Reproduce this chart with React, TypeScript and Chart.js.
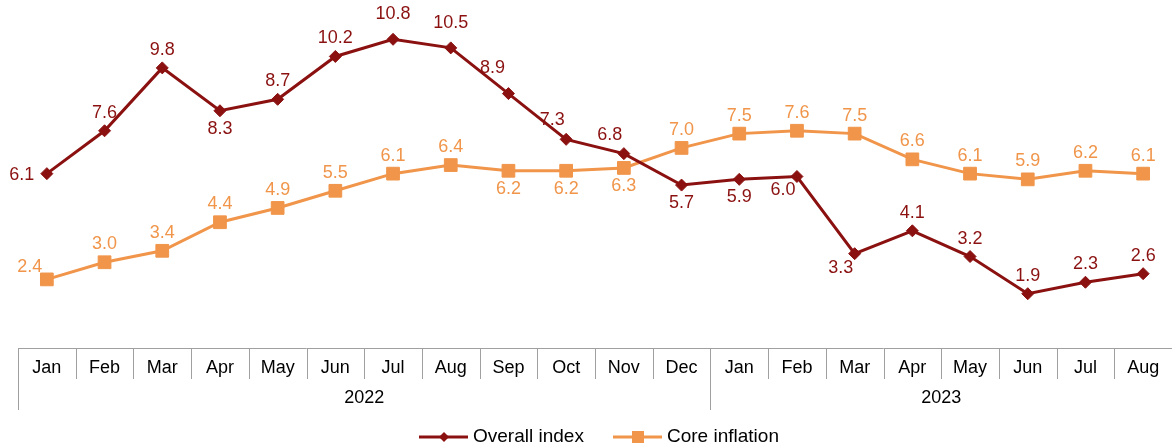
import React, { useEffect, useRef } from "react";
import { Chart, registerables } from "chart.js";

Chart.register(...registerables);

const months = ["Jan","Feb","Mar","Apr","May","Jun","Jul","Aug","Sep","Oct","Nov","Dec","Jan","Feb","Mar","Apr","May","Jun","Jul","Aug"];
const years = ["2022", "2023"];
const yearSpans = [12, 8];
const overallIndex = [6.1,7.6,9.8,8.3,8.7,10.2,10.8,10.5,8.9,7.3,6.8,5.7,5.9,6.0,3.3,4.1,3.2,1.9,2.3,2.6];
const coreInflation = [2.4,3.0,3.4,4.4,4.9,5.5,6.1,6.4,6.2,6.2,6.3,7.0,7.5,7.6,7.5,6.6,6.1,5.9,6.2,6.1];
const seriesNames = ["Overall index", "Core inflation"];

// label placement keywords (styling)
const overallPlace = ["L","A","A","B","A","A","AH","AH","ALH","AL","AL","B","B","BL","BL","A","A","A","A","A"];
const corePlace = ["ALS","A","A","A","A","A","A","A","B","B","B","A","A","A","A","A","A","A","A","A"];

const RED = "#8B1111";
const ORANGE = "#F0954A";
const FONT = "'Liberation Sans', Arial, sans-serif";

const offsets: Record<string, [number, number]> = {
  A: [0, -18],
  AH: [0, -25],
  B: [0, 18],
  L: [-25, 1],
  AL: [-14, -19],
  ALH: [-16, -26],
  ALS: [-17, -12],
  BL: [-14, 14],
};

const labelPlugin = {
  id: "labels",
  afterDatasetsDraw(chart: any) {
    const ctx = chart.ctx;
    ctx.save();
    ctx.font = `18px ${FONT}`;
    ctx.textAlign = "center";
    ctx.textBaseline = "middle";
    chart.data.datasets.forEach((ds: any, di: number) => {
      const meta = chart.getDatasetMeta(di);
      const place = di === 0 ? overallPlace : corePlace;
      ctx.fillStyle = di === 0 ? RED : ORANGE;
      meta.data.forEach((pt: any, i: number) => {
        const [dx, dy] = offsets[place[i]];
        ctx.fillText(ds.data[i].toFixed(1), pt.x + dx, pt.y + dy);
      });
    });
    ctx.restore();
  },
};

const tablePlugin = {
  id: "table",
  afterDraw(chart: any) {
    const ctx = chart.ctx;
    const { left, right, bottom } = chart.chartArea;
    const n = months.length;
    const w = (right - left) / n;
    ctx.save();
    ctx.strokeStyle = "#a0a0a0";
    ctx.lineWidth = 1;
    ctx.beginPath();
    ctx.moveTo(left, bottom + 0.5);
    ctx.lineTo(right, bottom + 0.5);
    let acc = 0;
    const yearStarts = new Set<number>();
    yearSpans.forEach((s) => { yearStarts.add(acc); acc += s; });
    for (let i = 0; i < n; i++) {
      const x = Math.round(left + i * w) + 0.5;
      ctx.moveTo(x, bottom);
      ctx.lineTo(x, yearStarts.has(i) ? bottom + 62 : bottom + 31);
    }
    ctx.stroke();
    ctx.fillStyle = "#000";
    ctx.font = `18px ${FONT}`;
    ctx.textAlign = "center";
    ctx.textBaseline = "middle";
    months.forEach((m, i) => ctx.fillText(m, left + (i + 0.5) * w, bottom + 20));
    acc = 0;
    years.forEach((y, k) => {
      const cx = left + (acc + yearSpans[k] / 2) * w;
      ctx.fillText(y, cx, bottom + 50);
      acc += yearSpans[k];
    });

    // legend
    const ly = 437;
    const items = [
      { x: 419, color: RED, shape: "diamond", text: seriesNames[0] },
      { x: 613, color: ORANGE, shape: "square", text: seriesNames[1] },
    ];
    ctx.font = `19px ${FONT}`;
    items.forEach((it) => {
      ctx.strokeStyle = it.color;
      ctx.fillStyle = it.color;
      ctx.lineWidth = 3;
      ctx.beginPath();
      ctx.moveTo(it.x, ly);
      ctx.lineTo(it.x + 49, ly);
      ctx.stroke();
      const cx = it.x + 25;
      ctx.beginPath();
      if (it.shape === "diamond") {
        ctx.moveTo(cx, ly - 5);
        ctx.lineTo(cx + 5, ly);
        ctx.lineTo(cx, ly + 5);
        ctx.lineTo(cx - 5, ly);
        ctx.closePath();
      } else {
        ctx.rect(cx - 6, ly - 6, 12, 12);
      }
      ctx.fill();
      ctx.fillStyle = "#000";
      ctx.textAlign = "left";
      ctx.fillText(it.text, it.x + 54, ly);
    });
    ctx.restore();
  },
};

export default function App() {
  const ref = useRef<HTMLCanvasElement>(null);
  useEffect(() => {
    document.body.style.margin = "0";
    const chart = new Chart(ref.current!, {
      type: "line",
      data: {
        labels: months,
        datasets: [
          {
            label: seriesNames[0],
            data: overallIndex,
            borderColor: RED,
            backgroundColor: RED,
            borderWidth: 3,
            pointStyle: "rectRot",
            pointRadius: 6,
            pointBorderWidth: 1,
            tension: 0,
            clip: false,
          },
          {
            label: seriesNames[1],
            data: coreInflation,
            borderColor: ORANGE,
            backgroundColor: ORANGE,
            borderWidth: 3,
            pointStyle: "rect",
            pointRadius: 9,
            pointBorderWidth: 1,
            tension: 0,
            clip: false,
          },
        ],
      },
      options: {
        animation: false,
        responsive: false,
        layout: { autoPadding: false, padding: { left: 18, right: 1, top: 5, bottom: 98 } },
        plugins: { legend: { display: false }, tooltip: { enabled: false } },
        scales: {
          x: { display: false, offset: true },
          y: { display: false, min: 0, max: 12 },
        },
      },
      plugins: [labelPlugin, tablePlugin],
    });
    return () => chart.destroy();
  }, []);
  return <canvas ref={ref} width={1173} height={446} style={{ display: "block" }} />;
}
